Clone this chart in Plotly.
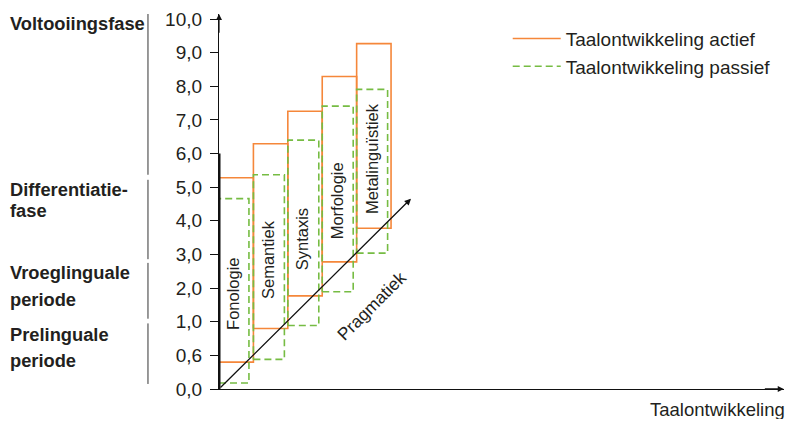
import plotly.graph_objects as go

# ---- data (y values in axis-position units; tick k carries label tick_labels[k]) ----
categories = ["Fonologie", "Semantiek", "Syntaxis", "Morfologie", "Metalinguïstiek"]
active_low = [0.80, 1.80, 2.77, 3.78, 4.78]
active_high = [6.28, 7.29, 8.26, 9.29, 10.27]
passive_low = [0.18, 0.88, 1.89, 2.89, 4.04]
passive_high = [5.66, 6.37, 7.40, 8.41, 8.91]
passive_width = [0.87, 0.90, 0.90, 0.90, 0.90]
tick_labels = ["0,0", "0,6", "1,0", "2,0", "3,0", "4,0", "5,0", "6,0", "7,0", "8,0", "9,0", "10,0"]

label_x = [0.41, 1.42, 2.41, 3.43, 4.45]
label_y = [2.83, 3.86, 4.45, 5.58, 6.84]

phase_lines = ["Voltooiingsfase", "Differentiatie-", "fase", "Vroeglinguale", "periode", "Prelinguale", "periode"]
phase_line_y = [10.88, 5.93, 5.31, 3.45, 2.65, 1.62, 0.86]
phase_separators = [(11.27, 6.37), (6.22, 3.86), (3.75, 2.09), (1.95, 0.15)]

pragmatiek_end = (5.58, 5.66)

ORANGE = "#F5873A"
GREEN = "#76BC43"
TXT = "#231F20"
FONT = "Liberation Sans, Arial, sans-serif"

X_MAX = 16.42
Y_MAX = 11.15


def box_path(lefts, widths, lows, highs):
    xs, ys = [], []
    for l, w, lo, hi in zip(lefts, widths, lows, highs):
        xs += [l, l + w, l + w, l, l, None]
        ys += [lo, lo, hi, hi, lo, None]
    return xs, ys


lefts = list(range(len(categories)))
ax_x, ax_y = box_path(lefts, [1] * len(categories), active_low, active_high)
px_x, px_y = box_path(lefts, passive_width, passive_low, passive_high)

fig = go.Figure()
fig.add_trace(go.Scatter(x=ax_x, y=ax_y, mode="lines", name="Taalontwikkeling actief",
                         line=dict(color=ORANGE, width=1.6), hoverinfo="skip"))
fig.add_trace(go.Scatter(x=px_x, y=px_y, mode="lines", name="Taalontwikkeling passief",
                         line=dict(color=GREEN, width=1.6, dash="7px,4px"), hoverinfo="skip"))

annotations = []
# box labels
for c, x, y in zip(categories, label_x, label_y):
    annotations.append(dict(x=x, y=y, xref="x", yref="y", text=c, showarrow=False,
                            textangle=-90, font=dict(size=16.5, color=TXT, family=FONT)))
# Pragmatiek arrow + label
annotations.append(dict(x=pragmatiek_end[0], y=pragmatiek_end[1], ax=0, ay=0, xref="x", yref="y",
                        axref="x", ayref="y", text="", showarrow=True, arrowhead=2, arrowsize=1,
                        arrowwidth=1.3, arrowcolor="#111"))
annotations.append(dict(x=4.43, y=2.48, xref="x", yref="y", text="Pragmatiek", showarrow=False,
                        textangle=-45, font=dict(size=17.5, color=TXT, family=FONT)))
# axis arrows
annotations.append(dict(x=0, y=Y_MAX, ax=0, ay=Y_MAX - 0.6, xref="x", yref="y", axref="x", ayref="y",
                        text="", showarrow=True, arrowhead=2, arrowsize=1, arrowwidth=1.2, arrowcolor="#111"))
annotations.append(dict(x=X_MAX * 0.9995, y=0.001, ax=X_MAX - 0.6, ay=0.001, xref="x", yref="y",
                        axref="x", ayref="y", text="", showarrow=True, arrowhead=2, arrowsize=1,
                        arrowwidth=1.2, arrowcolor="#111"))
# x axis title
annotations.append(dict(x=1.006, y=-0.02, xref="paper", yref="paper", xanchor="right", yanchor="top",
                        text="Taalontwikkeling", showarrow=False, font=dict(size=18.5, color=TXT, family=FONT)))
# phase labels
for t, y in zip(phase_lines, phase_line_y):
    annotations.append(dict(x=-0.3735, y=y, xref="paper", yref="y", xanchor="left", yanchor="middle",
                            text="<b>" + t + "</b>", showarrow=False,
                            font=dict(size=18.3, color=TXT, family=FONT)))

shapes = [dict(type="line", xref="x", yref="y", x0=0, x1=0, y0=0, y1=7,
               line=dict(color="#111", width=3))]
for y0, y1 in phase_separators:
    shapes.append(dict(type="line", xref="paper", yref="y", x0=-0.1257, x1=-0.1257, y0=y0, y1=y1,
                       line=dict(color="#333", width=1)))

# the page body adds an 8px margin, so the figure is sized to fit inside the window
fig.update_layout(
    width=777, height=411,
    margin=dict(l=211, r=1, t=3, b=30),
    paper_bgcolor="white", plot_bgcolor="white",
    showlegend=True,
    legend=dict(x=0.511, y=0.985, xanchor="left", yanchor="top", bgcolor="rgba(0,0,0,0)",
                font=dict(size=19, color=TXT, family=FONT), itemwidth=48, tracegroupgap=0),
    xaxis=dict(range=[0, X_MAX], showgrid=False, zeroline=False, showticklabels=False, ticks="",
               showline=True, linecolor="#111", linewidth=1.2, fixedrange=True),
    yaxis=dict(range=[0, Y_MAX], showgrid=False, zeroline=False, tickvals=list(range(len(tick_labels))),
               ticktext=tick_labels, ticks="outside", ticklen=8, tickcolor="#111", tickwidth=1,
               showline=True, linecolor="#111", linewidth=1.2, ticklabeloverflow="allow",
               ticklabelstandoff=4,
               tickfont=dict(size=19, color=TXT, family=FONT), fixedrange=True),
    annotations=annotations,
    shapes=shapes,
)

fig.write_html("out.html")
